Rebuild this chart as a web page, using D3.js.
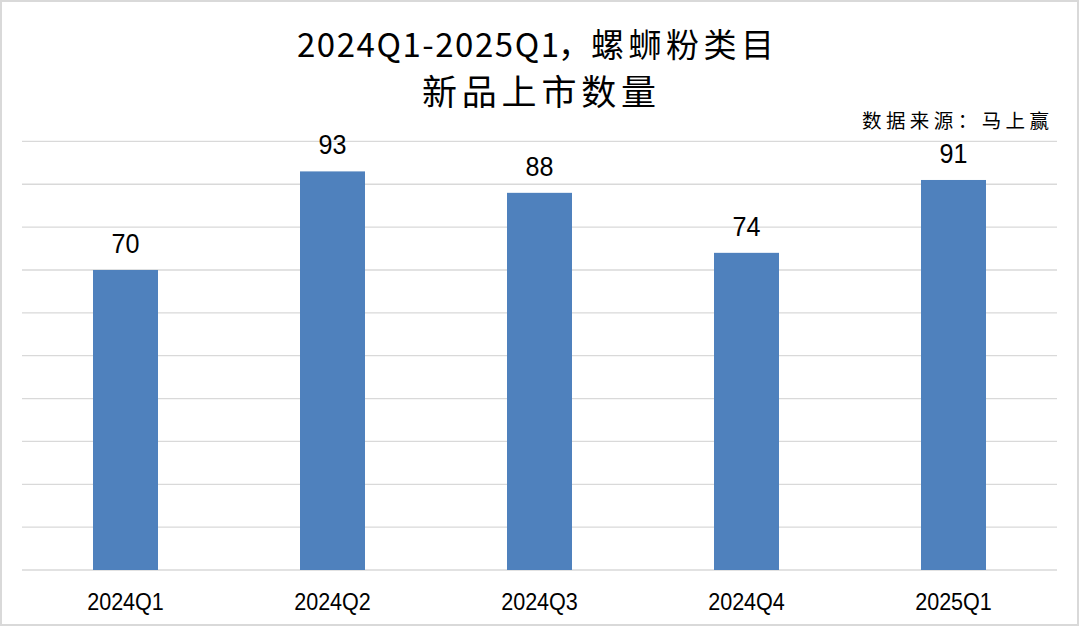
<!DOCTYPE html>
<html><head><meta charset="utf-8">
<script src="https://cdn.jsdelivr.net/npm/d3@7"></script>
<style>html,body{margin:0;padding:0;background:#fff;}svg{display:block;}</style>
</head><body>
<script>
const categories = ["2024Q1","2024Q2","2024Q3","2024Q4","2025Q1"];
const values = [70, 93, 88, 74, 91];
const yTicks = [0,10,20,30,40,50,60,70,80,90,100];
const titleLines = ["2024Q1-2025Q1，螺蛳粉类目","新品上市数量"];
const sourceText = "数据来源：马上赢";

const W = 1080, H = 627;
const svg = d3.select("body").append("svg").attr("width", W).attr("height", H);
svg.append("rect").attr("x",1).attr("y",1).attr("width",W-3).attr("height",H-3)
  .attr("fill","#fff").attr("stroke","#d9d9d9").attr("stroke-width",2);

const x = d3.scaleBand().domain(categories).range([22,1057]).paddingInner(0.686).paddingOuter(0.343);
const y = d3.scaleLinear().domain([0,100]).range([570,141.4]);

svg.append("g").selectAll("line").data(yTicks).join("line")
  .attr("x1",22).attr("x2",1057).attr("y1",d=>y(d)).attr("y2",d=>y(d))
  .attr("stroke","#d9d9d9").attr("stroke-width",1.3);

svg.append("g").selectAll("rect").data(values).join("rect")
  .attr("x",(d,i)=>x(categories[i])).attr("width",x.bandwidth())
  .attr("y",d=>y(d)).attr("height",d=>y(0)-y(d)).attr("fill","#4f81bd");

svg.append("g").selectAll("text").data(values).join("text")
  .attr("transform",(d,i)=>`translate(${x(categories[i])+x.bandwidth()/2},${y(d)-17}) scale(0.93,1)`)
  .attr("text-anchor","middle").attr("font-family","'Liberation Sans', Arial, sans-serif")
  .attr("font-size",27).attr("fill","#000").text(d=>d);

svg.append("g").selectAll("text").data(categories).join("text")
  .attr("transform",d=>`translate(${x(d)+x.bandwidth()/2},610) scale(0.88,1)`)
  .attr("text-anchor","middle").attr("font-family","'Liberation Sans', Arial, sans-serif")
  .attr("font-size",24.5).attr("fill","#000").text(d=>d);

// Title line 1 split into Latin part, comma, CJK part
const t1 = titleLines[0];
const ci = t1.indexOf("，");
const t1parts = [
  {s: t1.slice(0, ci), x: 297, len: 262},
  {s: "，", x: 558, len: null},
  {s: t1.slice(ci+1), x: 591, len: 183}
];
svg.append("g").selectAll("text").data(t1parts).join("text")
  .attr("x",d=>d.x).attr("y",57)
  .attr("font-family","'Noto Sans CJK SC', sans-serif").attr("font-size",33).attr("fill","#000")
  .each(function(d){ if(d.len) d3.select(this).attr("textLength",d.len).attr("lengthAdjust","spacing"); })
  .text(d=>d.s);

svg.append("text").attr("x",539).attr("y",105)
  .attr("text-anchor","middle").attr("font-family","'Noto Sans CJK SC', sans-serif")
  .attr("font-size",35).attr("fill","#000")
  .attr("textLength",234).attr("lengthAdjust","spacing").text(titleLines[1]);

svg.append("text").attr("x",1049).attr("y",128).attr("text-anchor","end")
  .attr("font-family","'Noto Sans CJK SC', sans-serif").attr("font-size",19.5)
  .attr("textLength",187).attr("lengthAdjust","spacing")
  .attr("fill","#000").text(sourceText);
</script>
</body></html>
